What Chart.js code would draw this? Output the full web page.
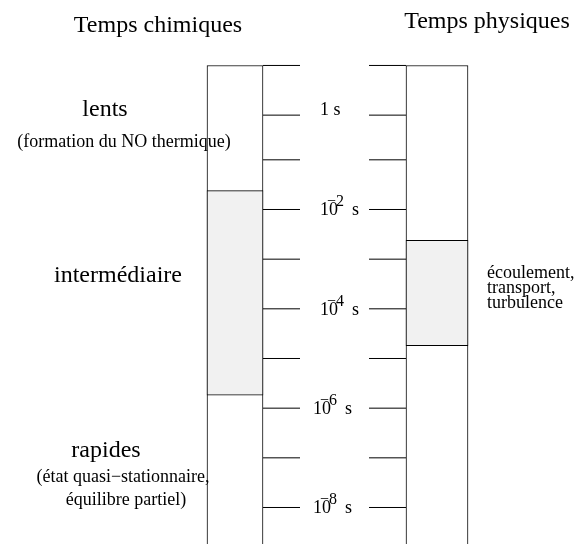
<!DOCTYPE html>
<html>
<head>
<meta charset="utf-8">
<script src="https://cdn.jsdelivr.net/npm/chart.js@4/dist/chart.umd.min.js"></script>
<style>
  html, body { margin: 0; padding: 0; background: #fff; }
  #wrap { width: 576px; height: 544px; position: relative; }
</style>
</head>
<body>
<div id="wrap"><canvas id="c"></canvas></div>
<script>
// ---- data (time scales in log10(t / s)) ----
const columnTitles = ['Temps chimiques', 'Temps physiques'];
const chemCategories = ['lents', 'intermédiaire', 'rapides'];
const chemNotes = [['(formation du NO thermique)'], [], ['(état quasi\u2212stationnaire,', 'équilibre partiel)']];
const physNotes = ['écoulement,', 'transport,', 'turbulence'];
const tickLevels = [0.9, -0.1, -1, -2, -3, -4, -5, -6, -7, -8];
const tickBase = ['', '1 s', '', '10', '', '10', '', '10', '', '10'];
const tickExp = ['', '', '', '\u22122', '', '\u22124', '', '\u22126', '', '\u22128'];
const columnRange = [0.9, -9.5];
const chemIntermediate = [-1.62, -5.74];
const physRange = [-2.62, -4.74];

// ---- layout (pixels) ----
const L = {
  chem: { c: 235, w: 56 }, phys: { c: 437, w: 62 },
  tickL: [263, 300], tickR: [369, 406],
  lineColor: '#000', fill: '#f1f1f1'
};
const serif = '"Liberation Serif", "Times New Roman", serif';

const tickData = [];
tickLevels.forEach(v => {
  tickData.push({ x: L.tickL[0], y: v }, { x: L.tickL[1], y: v }, { x: L.tickL[1], y: null });
  tickData.push({ x: L.tickR[0], y: v }, { x: L.tickR[1], y: v }, { x: L.tickR[1], y: null });
});

const textPlugin = {
  id: 'texts',
  afterDatasetsDraw(chart) {
    const ctx = chart.ctx, ys = chart.scales.y;
    ctx.save();
    ctx.fillStyle = '#000';
    ctx.textBaseline = 'alphabetic';
    const t = (s, x, y, size, align) => {
      ctx.font = size + 'px ' + serif;
      ctx.textAlign = align || 'center';
      ctx.fillText(s, x, y);
    };
    // titles
    t(columnTitles[0], 158, 32, 24);
    t(columnTitles[1], 487, 28, 24);
    // chemical categories
    t(chemCategories[0], 105, 116, 24);
    t(chemNotes[0][0], 124, 147, 18);
    t(chemCategories[1], 118, 282, 24);
    t(chemCategories[2], 106, 457, 24);
    t(chemNotes[2][0], 123, 482, 18);
    t(chemNotes[2][1], 126, 505, 18);
    // physical processes
    physNotes.forEach((s, i) => t(s, 487, 278 + i * 15, 18, 'left'));
    // tick labels
    tickLevels.forEach((v, i) => {
      const py = ys.getPixelForValue(v);
      if (!tickBase[i]) return;
      if (!tickExp[i]) { t(tickBase[i], 320, py, 18, 'left'); return; }
      const x0 = (v <= -5.5) ? 313 : 320;
      t(tickBase[i], x0, py + 6, 18, 'left');
      t(tickExp[i], x0 + 7, py - 3, 16, 'left');
      t('s', x0 + 32, py + 6, 18, 'left');
    });
    ctx.restore();
  }
};

new Chart(document.getElementById('c'), {
  type: 'bar',
  data: {
    datasets: [
      { type: 'scatter', showLine: true, data: tickData, borderColor: L.lineColor, borderWidth: 1,
        pointRadius: 0, spanGaps: false, order: 0 },
      { data: [{ x: L.chem.c, y: chemIntermediate }], barThickness: L.chem.w, backgroundColor: L.fill,
        borderColor: L.lineColor, borderWidth: 1, borderSkipped: false, order: 1 },
      { data: [{ x: L.phys.c, y: physRange }], barThickness: L.phys.w, backgroundColor: L.fill,
        borderColor: L.lineColor, borderWidth: 1, borderSkipped: false, order: 1 },
      { data: [{ x: L.chem.c, y: columnRange }], barThickness: L.chem.w, backgroundColor: '#fff',
        borderColor: L.lineColor, borderWidth: 1, borderSkipped: false, order: 2 },
      { data: [{ x: L.phys.c, y: columnRange }], barThickness: L.phys.w, backgroundColor: '#fff',
        borderColor: L.lineColor, borderWidth: 1, borderSkipped: false, order: 2 }
    ]
  },
  options: {
    responsive: true, maintainAspectRatio: false, animation: false,
    devicePixelRatio: 1,
    layout: { padding: 0 },
    datasets: { bar: { grouped: false } },
    plugins: { legend: { display: false }, tooltip: { enabled: false }, title: { display: false } },
    scales: {
      x: { type: 'linear', min: 0, max: 576, offset: false, display: false },
      y: { type: 'linear', min: -8.735, max: 2.218, display: false }
    }
  },
  plugins: [textPlugin]
});
</script>
</body>
</html>
